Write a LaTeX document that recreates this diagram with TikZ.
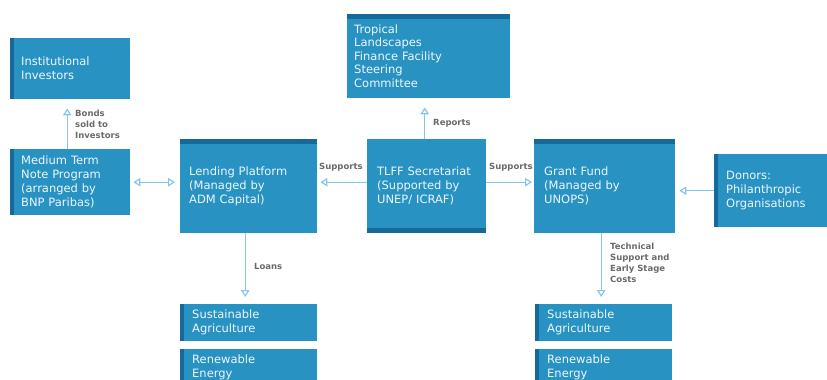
\documentclass[tikz,border=0pt]{standalone}
\usepackage{fontspec}
\setmainfont{DejaVu Sans}
\usetikzlibrary{arrows.meta}
\definecolor{boxblue}{HTML}{2893C3}
\definecolor{stripblue}{HTML}{17699A}
\definecolor{linkblue}{HTML}{86C6E8}
\definecolor{labelgray}{HTML}{6A6A6A}
\newcommand{\stripw}{4pt}
\newcommand{\gap}{9pt}
\tikzset{
  box/.style={fill=boxblue, text=white!92!boxblue, anchor=north west, align=left,
    inner ysep=0pt, inner xsep=9pt, font=\fontsize{11.5}{14}\selectfont},
  leftstrip/.style={path picture={\fill[stripblue] (path picture bounding box.north west)
    rectangle ([xshift=\stripw]path picture bounding box.south west);}},
  topstrip/.style={path picture={\fill[stripblue] (path picture bounding box.north west)
    rectangle ([yshift=-5pt]path picture bounding box.north east);}},
  bottomstrip/.style={path picture={\fill[stripblue] (path picture bounding box.south west)
    rectangle ([yshift=5pt]path picture bounding box.south east);}},
  tip/.tip={Triangle[open,length=7pt,width=8.5pt]},
  link/.style={draw=linkblue, line width=1.2pt, -tip},
  linklabel/.style={text=labelgray, align=left, inner sep=0pt,
    font=\bfseries\fontsize{8.5}{11}\selectfont}
}

\begin{document}
\begin{tikzpicture}[x=1pt,y=-1pt]
\useasboundingbox (0,0) rectangle (827,380);
%left column
\node[box,leftstrip,inner xsep=11pt] (inv) at (10,38) [minimum width=120, minimum height=61, text width=98] {Institutional\\Investors};
\node[box,leftstrip,inner xsep=11pt] (mtn) at (10,149) [minimum width=120, minimum height=66, text width=98] {Medium Term\\Note Program\\(arranged by\\BNP Paribas)};
%middle row
\node[box,topstrip] (lend) at (180,139) [minimum width=137, minimum height=94, text width=119] {Lending Platform\\(Managed by\\ADM Capital)};
\node[box,bottomstrip,inner xsep=10pt] (sec) at (367,139) [minimum width=119, minimum height=94, text width=99] {TLFF Secretariat\\(Supported by\\UNEP/ ICRAF)};
\node[box,topstrip,inner xsep=10pt] (grant) at (534,139) [minimum width=141, minimum height=94, text width=121] {Grant Fund\\(Managed by\\UNOPS)};
\node[box,leftstrip,inner xsep=12pt] (don) at (714,154) [minimum width=113, minimum height=73, text width=89] {Donors:\\Philanthropic\\Organisations};
%top
\node[box,topstrip,inner xsep=7pt,font=\fontsize{11.5}{13.5}\selectfont] (steer) at (347,14) [minimum width=163, minimum height=84, text width=149] {Tropical\\Landscapes\\Finance Facility\\Steering\\Committee};
%sectors
\node[box,leftstrip,inner xsep=12pt] (agri1) at (180,304) [minimum width=137, minimum height=37, text width=113] {Sustainable\\Agriculture};
\node[box,leftstrip,inner xsep=12pt] (ener1) at (180,349) [minimum width=137, minimum height=37, text width=113] {Renewable\\Energy};
\node[box,leftstrip,inner xsep=12pt] (agri2) at (535,304) [minimum width=137, minimum height=37, text width=113] {Sustainable\\Agriculture};
\node[box,leftstrip,inner xsep=12pt] (ener2) at (535,349) [minimum width=137, minimum height=37, text width=113] {Renewable\\Energy};

%arrows
\draw[link,shorten >=\gap] ([xshift=-3pt]mtn.north) -- ([xshift=-3pt]inv.south);
\draw[link,tip-tip,shorten <=3pt,shorten >=5pt] (mtn.east) -- (mtn.east -| lend.west);
\draw[link,shorten >=3pt] ([yshift=4pt]sec.west) -- ([yshift=4pt]sec.west -| lend.east);
\draw[link,shorten >=2pt] ([yshift=4pt]sec.east) -- ([yshift=4pt]sec.east -| grant.west);
\draw[link,shorten >=\gap] ([xshift=-2pt]sec.north) -- ([xshift=-2pt]sec.north |- steer.south);
\draw[link,shorten >=4pt] (don.west) -- (don.west -| grant.east);
\draw[link,shorten >=7pt] ([xshift=-3.5pt]lend.south) -- ([xshift=-3.5pt]lend.south |- agri1.north);
\draw[link,shorten >=7pt] ([xshift=-3.5pt]grant.south) -- ([xshift=-3.5pt]grant.south |- agri2.north);

%labels
\node[linklabel,anchor=north west] (bonds) at (75,110) {Bonds\\sold to\\Investors};
\node[linklabel,anchor=west] (sup1) at (319,167) {Supports};
\node[linklabel,anchor=west] (sup2) at (489,167) {Supports};
\node[linklabel,anchor=west] (rep) at (433,123) {Reports};
\node[linklabel,anchor=west] (loans) at (254,266) {Loans};
\node[linklabel,anchor=north west] (tech) at (610,243) {Technical\\Support and\\Early Stage\\Costs};
\end{tikzpicture}
\end{document}
